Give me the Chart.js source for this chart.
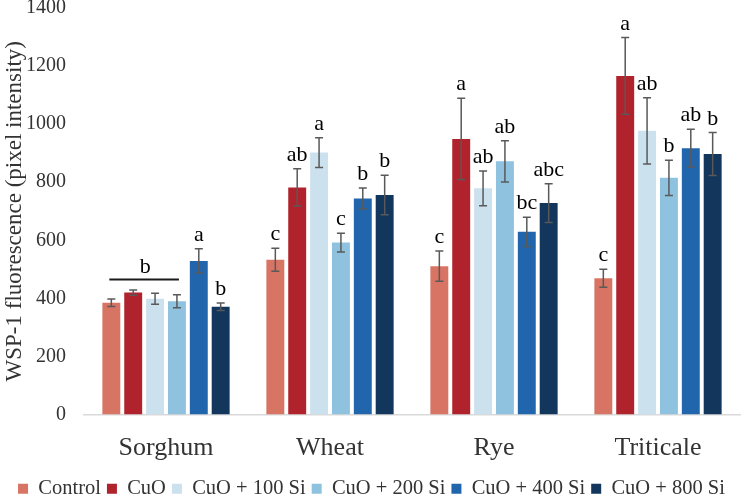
<!DOCTYPE html>
<html>
<head>
<meta charset="utf-8">
<script src="https://cdn.jsdelivr.net/npm/chart.js@4/dist/chart.umd.min.js"></script>
<style>
html,body{margin:0;padding:0;background:#fff;overflow:hidden;}
#wrap{width:744px;height:496px;overflow:hidden;}
</style>
</head>
<body>
<div id="wrap"><canvas id="c" width="744" height="509"></canvas></div>
<script>
const categories = ["Sorghum", "Wheat", "Rye", "Triticale"];
const seriesNames = ["Control", "CuO", "CuO + 100 Si", "CuO + 200 Si", "CuO + 400 Si", "CuO + 800 Si"];
const seriesColors = ["#D77463", "#B0232C", "#CCE1EE", "#8FC2DF", "#2166AC", "#12365C"];

const controlVals = [385, 533, 511, 469];
const cuoVals     = [420, 782, 949, 1166];
const si100Vals   = [399, 902, 779, 977];
const si200Vals   = [390, 592, 872, 815];
const si400Vals   = [529, 744, 629, 917];
const si800Vals   = [371, 756, 728, 897];

const controlErr = [13, 40, 52, 31];
const cuoErr     = [9, 64, 140, 132];
const si100Err   = [19, 51, 60, 114];
const si200Err   = [22, 32, 71, 61];
const si400Err   = [42, 36, 50, 65];
const si800Err   = [13, 68, 67, 74];

const controlLetters = ["", "c", "c", "c"];
const cuoLetters     = ["", "ab", "a", "a"];
const si100Letters   = ["", "a", "ab", "ab"];
const si200Letters   = ["", "c", "ab", "b"];
const si400Letters   = ["a", "b", "bc", "ab"];
const si800Letters   = ["b", "b", "abc", "b"];

const sorghumGroupLetter = "b";
const sorghumGroupLineValue = 465;

const yTicks = [0, 200, 400, 600, 800, 1000, 1200, 1400];
const yTitle = "WSP-1 fluorescence (pixel intensity)";

const allVals = [controlVals, cuoVals, si100Vals, si200Vals, si400Vals, si800Vals];
const allErr = [controlErr, cuoErr, si100Err, si200Err, si400Err, si800Err];
const allLetters = [controlLetters, cuoLetters, si100Letters, si200Letters, si400Letters, si800Letters];

const FONT = "'Liberation Serif', 'Times New Roman', serif";
const TXT = "#333333";

const datasets = seriesNames.map((n, i) => ({
  label: n,
  data: allVals[i],
  backgroundColor: seriesColors[i],
  borderWidth: 0,
  categoryPercentage: 0.8,
  barPercentage: 0.82
}));

const errPlugin = {
  id: 'errbars',
  afterDatasetsDraw(chart) {
    const ctx = chart.ctx;
    const y = chart.scales.y;
    ctx.save();
    datasets.forEach((ds, di) => {
      const meta = chart.getDatasetMeta(di);
      meta.data.forEach((bar, j) => {
        const v = allVals[di][j], e = allErr[di][j];
        const yt = y.getPixelForValue(v + e), yb = y.getPixelForValue(v - e);
        const x = bar.x;
        ctx.strokeStyle = "#595959";
        ctx.lineWidth = 1.5;
        ctx.beginPath();
        ctx.moveTo(x, yt); ctx.lineTo(x, yb);
        ctx.moveTo(x - 4, yt); ctx.lineTo(x + 4, yt);
        ctx.moveTo(x - 4, yb); ctx.lineTo(x + 4, yb);
        ctx.stroke();
        const L = allLetters[di][j];
        if (L) {
          ctx.fillStyle = "#000";
          ctx.font = "22px " + FONT;
          ctx.textAlign = "center";
          ctx.textBaseline = "alphabetic";
          ctx.fillText(L, x, yt - 8);
        }
      });
    });
    const b0 = chart.getDatasetMeta(0).data[0];
    const b3 = chart.getDatasetMeta(3).data[0];
    const ly = y.getPixelForValue(sorghumGroupLineValue);
    ctx.strokeStyle = "#1a1a1a";
    ctx.lineWidth = 2;
    ctx.beginPath();
    ctx.moveTo(b0.x - 2, ly); ctx.lineTo(b3.x + 2, ly);
    ctx.stroke();
    ctx.fillStyle = "#000";
    ctx.font = "22px " + FONT;
    ctx.textAlign = "center";
    ctx.textBaseline = "alphabetic";
    ctx.fillText(sorghumGroupLetter, (b0.x + b3.x) / 2 + 1, ly - 6);
    ctx.restore();
  }
};

new Chart(document.getElementById('c'), {
  type: 'bar',
  data: { labels: categories, datasets },
  options: {
    responsive: false,
    animation: false,
    devicePixelRatio: 1,
    layout: { padding: { left: 3, right: 4, top: 0, bottom: 0 } },
    plugins: {
      legend: {
        position: 'bottom',
        labels: {
          font: { family: FONT, size: 20.5 },
          color: TXT,
          boxWidth: 10, boxHeight: 10,
          padding: 6
        }
      },
      tooltip: { enabled: false }
    },
    scales: {
      x: {
        grid: { display: false, drawTicks: false },
        border: { display: true, color: "#D9D9D9", width: 1.5 },
        ticks: { font: { family: FONT, size: 26 }, color: TXT, padding: 18 },
        afterFit(scale) { scale.height = 58; scale.paddingLeft = 0; scale.paddingRight = 0; }
      },
      y: {
        min: 0, max: 1400,
        afterBuildTicks(axis) { axis.ticks = yTicks.map(v => ({ value: v })); },
        grid: { display: false, drawTicks: false },
        border: { display: false },
        ticks: {
          font: { family: FONT, size: 20 },
          color: TXT, padding: 18,
          callback: (v) => String(v)
        },
        title: { display: true, text: yTitle, font: { family: FONT, size: 23, lineHeight: 1 }, color: TXT, padding: 0 },
        afterFit(scale) { scale.width = 81; scale.paddingTop = 8; scale.paddingBottom = 0; }
      }
    }
  },
  plugins: [errPlugin]
});
</script>
</body>
</html>
